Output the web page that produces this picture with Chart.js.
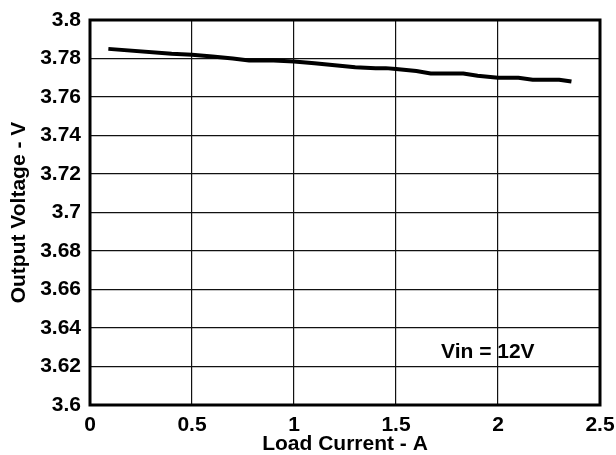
<!DOCTYPE html>
<html>
<head>
<meta charset="utf-8">
<script src="https://cdn.jsdelivr.net/npm/chart.js@4.4.0/dist/chart.umd.min.js"></script>
<style>
  html, body { margin: 0; padding: 0; background: #fff; }
  #wrap { width: 616px; height: 455px; }
</style>
</head>
<body>
<div id="wrap"><canvas id="chart" width="616" height="455"></canvas></div>
<script>
// load current (A) vs output voltage (V), Vin = 12V
const loadCurrent = [0.09, 0.4, 0.5, 0.6, 0.7, 0.78, 0.9, 1.0, 1.1, 1.2, 1.3, 1.4, 1.45, 1.5, 1.6, 1.67, 1.83, 1.9, 2.0, 2.1, 2.17, 2.3, 2.36];
const outputVoltage = [3.785, 3.7825, 3.782, 3.781, 3.780, 3.779, 3.779, 3.7785, 3.7775, 3.7765, 3.7755, 3.775, 3.775, 3.7745, 3.7735, 3.7722, 3.7722, 3.771, 3.770, 3.770, 3.769, 3.769, 3.768];
const xTicks = [0, 0.5, 1, 1.5, 2, 2.5];
const yTicks = [3.6, 3.62, 3.64, 3.66, 3.68, 3.7, 3.72, 3.74, 3.76, 3.78, 3.8];
const noteText = 'Vin = 12V';

const font = { family: '"Liberation Sans", Arial, sans-serif', weight: 'bold', size: 21 };

const frame = {
  id: 'frame',
  afterDraw(chart) {
    const { ctx, chartArea: a, scales } = chart;
    ctx.save();
    ctx.strokeStyle = '#000';
    ctx.lineWidth = 3;
    ctx.strokeRect(a.left, a.top, a.right - a.left, a.bottom - a.top);
    // note text
    ctx.fillStyle = '#000';
    ctx.font = 'bold 21px "Liberation Sans", Arial, sans-serif';
    ctx.textAlign = 'center';
    ctx.textBaseline = 'middle';
    ctx.fillText(noteText, scales.x.getPixelForValue(1.95), scales.y.getPixelForValue(3.6275));
    ctx.restore();
  }
};

new Chart(document.getElementById('chart'), {
  type: 'line',
  data: {
    datasets: [{
      data: loadCurrent.map((x, i) => ({ x: x, y: outputVoltage[i] })),
      borderColor: '#000',
      borderWidth: 4,
      pointRadius: 0,
      tension: 0,
      fill: false
    }]
  },
  options: {
    responsive: false,
    animation: false,
    layout: { padding: { top: 20, right: 16, left: 0, bottom: 0 } },
    plugins: { legend: { display: false }, tooltip: { enabled: false } },
    scales: {
      x: {
        type: 'linear',
        min: 0, max: 2.5,
        afterBuildTicks: (s) => { s.ticks = xTicks.map(v => ({ value: v })); },
        afterFit: (s) => { s.height = 50; s.paddingLeft = 0; s.paddingRight = 0; },
        grid: { color: '#111', lineWidth: 1.2, drawTicks: false },
        border: { display: false },
        ticks: { color: '#000', font: font, padding: 8, maxRotation: 0,
                 callback: (v) => String(v) },
        title: { display: true, text: 'Load Current - A', color: '#000', font: font, padding: { top: 0, bottom: -2 } }
      },
      y: {
        min: 3.6, max: 3.8,
        afterBuildTicks: (s) => { s.ticks = yTicks.map(v => ({ value: v })); },
        afterFit: (s) => { s.width = 90; s.paddingTop = 0; s.paddingBottom = 0; },
        grid: { color: '#111', lineWidth: 1.2, drawTicks: false },
        border: { display: false },
        ticks: { color: '#000', font: font, padding: 9,
                 callback: (v) => String(Math.round(v * 100) / 100) },
        title: { display: true, text: 'Output Voltage - V', color: '#000', font: font, padding: { top: 7, bottom: 0 } }
      }
    }
  },
  plugins: [frame]
});
</script>
</body>
</html>
